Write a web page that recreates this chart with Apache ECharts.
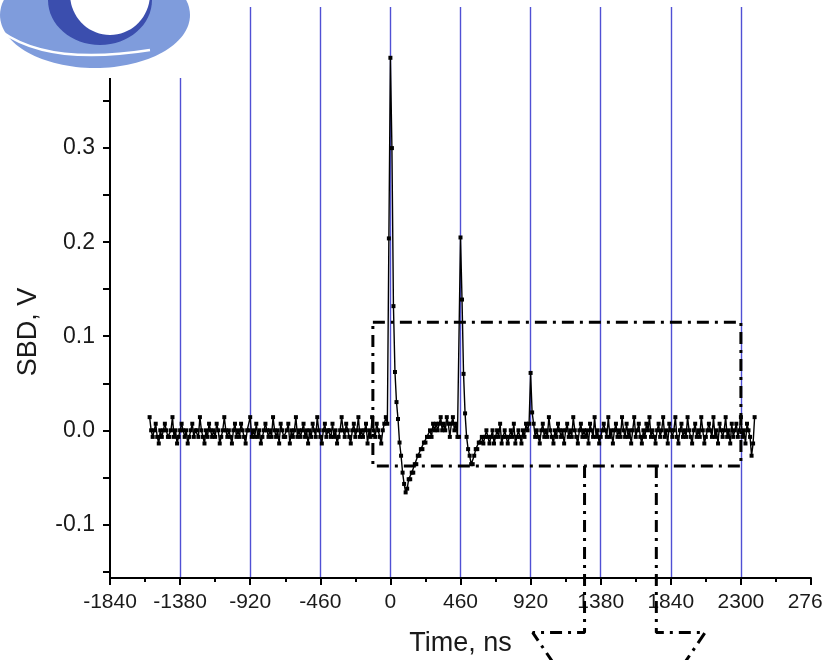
<!DOCTYPE html>
<html>
<head>
<meta charset="utf-8">
<script src="https://cdn.jsdelivr.net/npm/echarts@6/dist/echarts.min.js"></script>
<style>
  html, body { margin: 0; padding: 0; background: #ffffff; }
  #chart { width: 823px; height: 660px; }
</style>
</head>
<body>
<div id="chart"></div>
<script>
// Sampling interval of the SBD trace, ns
const sampleStep = 10;

// Baseline before the first pulse (starts at -1580 ns)
const baselineBeforeStart = -1580;
const baselineBefore = [
  0.014, 0, -0.007, 0, 0.007, -0.007, -0.014, 0, -0.007, 0, 0.007, 0, -0.007, -0.007, 0, 0.014, -0.007, 0, -0.014, -0.007,
  0, 0.007, 0, -0.007, 0, -0.014, -0.007, 0, 0.007, -0.007, 0, 0, -0.007, 0.014, 0, -0.007, -0.014, 0, -0.007, 0.007,
  0, -0.007, 0, -0.007, 0.007, 0, -0.014, -0.007, 0, 0.014, 0, -0.007, 0, -0.007, -0.014, 0, 0.007, -0.007, 0, -0.007,
  0.007, 0, -0.007, -0.014, 0, 0, 0.014, -0.007, 0, -0.007, 0.007, -0.007, 0, -0.014, -0.007, 0, 0.007, 0, -0.007, 0,
  -0.007, 0.014, 0, -0.007, 0, -0.014, 0.007, 0, -0.007, -0.007, 0, 0.007, -0.014, 0, -0.007, 0, 0.014, -0.007, 0, -0.007,
  0, 0.007, -0.007, 0, -0.014, 0, -0.007, 0.007, 0, -0.007, 0.014, 0, -0.007, -0.014, 0, 0.007, -0.007, 0, 0, -0.007,
  0.007, -0.007, 0, -0.014, -0.007, 0, 0.014, 0, -0.007, 0.007, 0, -0.007, -0.014, 0, 0.007, -0.007, 0, 0.014, -0.007, 0,
  -0.007, 0, 0.007, -0.014, 0, -0.007, 0.014, 0, -0.007, 0.007, 0, -0.007, -0.014, 0, 0.007, 0.014
];

// First (main) pulse and its negative undershoot
const firstPulseStart = -20;
const firstPulse = [
  0.007, 0.204, 0.396, 0.300, 0.132, 0.062, 0.030, 0.012, -0.013, -0.027,
  -0.045, -0.057, -0.066, -0.062, -0.052, -0.052, -0.045, -0.045, -0.036, -0.036,
  -0.027, -0.027, -0.020, -0.020, -0.013, -0.013, -0.007, -0.007, 0, -0.007,
  0.007, 0, 0.007
];

// Between the first and second pulses
const betweenPulsesStart = 310;
const betweenPulses = [0, 0.007, 0.014, 0, 0.007, 0, 0.014, 0.007, -0.007, 0.007, 0.014, 0, 0.007, -0.007];

// Second pulse near 460 ns
const secondPulseStart = 450;
const secondPulse = [-0.007, 0.205, 0.139, 0.060, 0.018, -0.007, -0.020, -0.027, -0.036, -0.036, -0.027, -0.020, -0.020, -0.013, -0.013];

// Baseline after the second pulse
const afterSecondStart = 600;
const afterSecond = [
  -0.007, -0.014, -0.007, 0, -0.007, -0.014, -0.007, 0, -0.014, -0.007,
  0, -0.007, 0.007, -0.014, -0.007, 0, -0.007, -0.014, -0.007, 0,
  -0.007, 0.007, -0.014, -0.007, 0, -0.007, -0.014, 0, -0.007, 0.007, 0
];

// Third (small) pulse near 920 ns
const thirdPulseStart = 910;
const thirdPulse = [0.007, 0.061, 0.019, 0.007];

// Tail of the record
const tailStart = 950;
const tail = [
  -0.007, 0, -0.007, -0.014, 0, 0.007, -0.007, 0, -0.007, 0.014, 0, -0.007, -0.014, 0, -0.007, 0.007, 0, -0.007, 0, -0.014,
  0, 0.007, -0.007, 0, -0.007, 0.014, 0, -0.007, -0.014, 0, 0.007, -0.007, 0, -0.007, 0, -0.014, 0.007, 0, -0.007, 0.014,
  -0.007, 0, -0.014, -0.007, 0, 0.007, 0, -0.007, 0.014, -0.007, 0, -0.014, 0, 0.007, -0.007, 0, -0.007, 0.014, 0, -0.007,
  0.007, -0.007, 0, -0.014, 0, 0.014, -0.007, 0, 0.007, -0.007, -0.014, 0, -0.007, 0.007, 0, 0.014, -0.007, 0, -0.007, -0.014,
  0, 0.007, -0.007, 0, 0.014, -0.007, 0, -0.014, 0.007, 0, -0.007, 0, 0.014, -0.007, -0.014, 0, 0.007, -0.007, 0, -0.007,
  0.014, 0, -0.007, -0.014, 0, 0.007, -0.007, 0, -0.007, 0.014, 0, -0.014, -0.007, 0, 0.007, 0, -0.007, 0.014, -0.007, 0,
  -0.014, 0.007, 0, -0.007, 0, 0.014, -0.007, 0, -0.014, 0.007, -0.007, 0, 0.007, -0.007, 0, 0.014, -0.007, 0, -0.014, 0.007,
  0, -0.007, -0.027, -0.014, 0.014
];

// Axis ranges and tick values
const xMin = -1840, xMax = 2760, xStep = 460;
const yMin = -0.157, yMax = 0.45;
const yLabelValues = [-0.1, 0.0, 0.1, 0.2, 0.3];
const yTickValues = [-0.15, -0.1, -0.05, 0.0, 0.05, 0.1, 0.15, 0.2, 0.25, 0.3, 0.35, 0.4, 0.45];

// Dash-dot zoom frame around the pulses and the arrow below it (data units)
const frameTime = [-115, 2300, 2300, -115, -115];
const frameVolt = [0.115, 0.115, -0.038, -0.038, 0.115];
const arrowLeftTime = [1274, 1274, 934, 1143];
const arrowLeftVolt = [-0.038, -0.215, -0.215, -0.265];
const arrowRightTime = [1745, 1745, 2065, 1856];
const arrowRightVolt = [-0.038, -0.215, -0.215, -0.265];

const segments = [
  [baselineBeforeStart, baselineBefore],
  [firstPulseStart, firstPulse],
  [betweenPulsesStart, betweenPulses],
  [secondPulseStart, secondPulse],
  [afterSecondStart, afterSecond],
  [thirdPulseStart, thirdPulse],
  [tailStart, tail]
];
const trace = [];
segments.forEach(([t0, vals]) => {
  vals.forEach((v, i) => trace.push([t0 + i * sampleStep, v]));
});
const zip = (xs, ys) => xs.map((x, i) => [x, ys[i]]);

const dashDot = [12, 6, 3, 6];
const labelFont = "'Liberation Sans', Arial, sans-serif";
const logoZ = 100;

const chart = echarts.init(document.getElementById('chart'), null, { renderer: 'canvas' });
chart.setOption({
  animation: false,
  backgroundColor: '#ffffff',
  grid: { left: 110, right: 12, top: 7, bottom: 82, containLabel: false, outerBoundsMode: 'none' },
  xAxis: {
    type: 'value',
    min: xMin, max: xMax, interval: xStep,
    name: 'Time, ns',
    nameLocation: 'middle',
    nameGap: 52,
    nameTextStyle: { fontFamily: labelFont, fontSize: 27, color: '#1a1a1a' },
    axisLine: { onZero: false, lineStyle: { color: '#000', width: 2 } },
    axisTick: { show: true, inside: false, length: 7, lineStyle: { color: '#000', width: 2 } },
    minorTick: { show: true, splitNumber: 2, length: 4, lineStyle: { color: '#000', width: 2 } },
    axisLabel: {
      margin: 14,
      fontFamily: labelFont,
      fontSize: 21, color: '#1a1a1a',
      showMinLabel: true, showMaxLabel: true,
      hideOverlap: false,
      formatter: (v) => String(v)
    },
    splitLine: {
      show: true,
      lineStyle: {
        color: ['rgba(0,0,0,0)', '#5050d4', '#5050d4', '#5050d4', '#5050d4', '#5050d4',
                '#5050d4', '#5050d4', '#5050d4', '#5050d4', 'rgba(0,0,0,0)'],
        width: 1.4
      }
    }
  },
  yAxis: {
    type: 'value',
    min: yMin, max: yMax,
    axisLine: { onZero: false, lineStyle: { color: '#000', width: 2 } },
    axisTick: { show: true, inside: false, length: 7, customValues: yTickValues, lineStyle: { color: '#000', width: 2 } },
    axisLabel: {
      margin: 15,
      fontFamily: labelFont, fontSize: 23, color: '#1a1a1a',
      customValues: yLabelValues,
      formatter: (v) => v.toFixed(1)
    },
    splitLine: { show: false }
  },
  series: [
    {
      type: 'line',
      name: 'SBD',
      data: trace,
      showAllSymbol: true,
      symbol: 'rect',
      symbolSize: 4,
      itemStyle: { color: '#000' },
      lineStyle: { color: '#000', width: 1.4 },
      z: 3
    },
    {
      type: 'line', data: zip(frameTime, frameVolt), symbol: 'none', silent: true, clip: false,
      lineStyle: { color: '#000', width: 3, type: dashDot }, z: 4
    },
    {
      type: 'line', data: zip(arrowLeftTime, arrowLeftVolt), symbol: 'none', silent: true, clip: false,
      lineStyle: { color: '#000', width: 3, type: dashDot }, z: 4
    },
    {
      type: 'line', data: zip(arrowRightTime, arrowRightVolt), symbol: 'none', silent: true, clip: false,
      lineStyle: { color: '#000', width: 3, type: dashDot }, z: 4
    }
  ],
  graphic: [
    {
      type: 'text', x: 29, y: 332, rotation: Math.PI / 2,
      style: { text: 'SBD, V', font: "27px 'Liberation Sans', Arial, sans-serif", fill: '#1a1a1a', align: 'center', verticalAlign: 'middle' }
    },
    // Institute emblem in the upper-left corner
    { type: 'rect', z: logoZ, shape: { x: 0, y: 0, width: 205, height: 78 }, style: { fill: '#ffffff' } },
    { type: 'ellipse', z: logoZ + 1, shape: { cx: 95, cy: 15, rx: 95, ry: 53 }, style: { fill: '#7f9cdc' } },
    { type: 'bezierCurve', z: logoZ + 2, shape: { x1: 2, y1: 32, x2: 150, y2: 50, cpx1: 50, cpy1: 66 }, style: { fill: null, stroke: '#ffffff', lineWidth: 2.5 } },
    { type: 'ellipse', z: logoZ + 3, shape: { cx: 100, cy: 0, rx: 52, ry: 45 }, style: { fill: '#3b4eae' } },
    { type: 'ellipse', z: logoZ + 4, shape: { cx: 110, cy: -6, rx: 40, ry: 41 }, style: { fill: '#ffffff' } }
  ]
});
</script>
</body>
</html>
